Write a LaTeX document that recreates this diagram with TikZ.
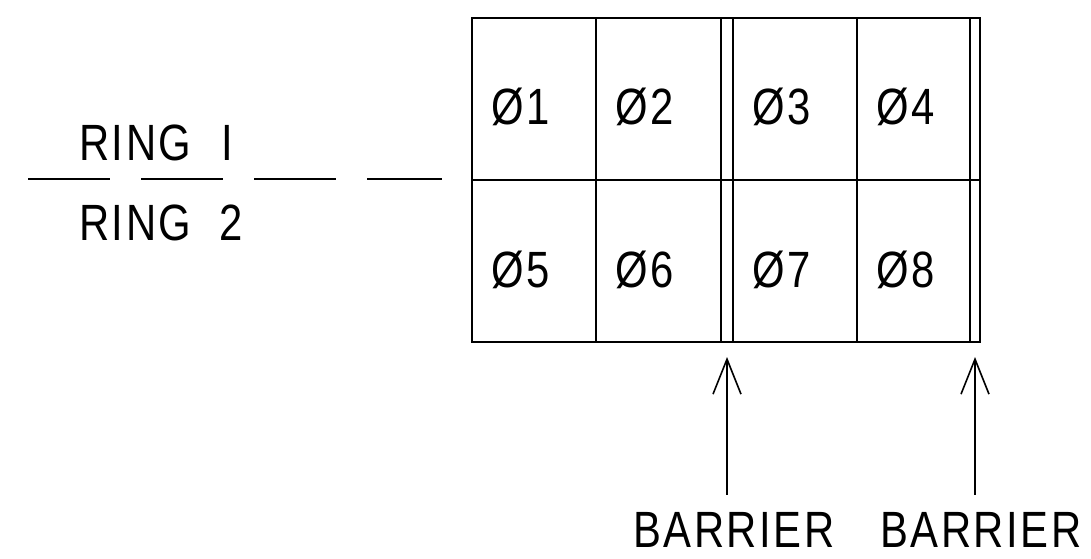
\documentclass[tikz,border=0pt]{standalone}
\usepackage{fontspec}
\newfontfamily\plotfont[FakeStretch=0.82, LetterSpace=5]{Liberation Sans}
\usetikzlibrary{arrows.meta}

\tikzset{
    grid/.style={line width=2pt},
    phase/.style={inner sep=0pt, anchor=base west, font=\plotfont\fontsize{51}{51}\selectfont},
    label/.style={inner sep=0pt, anchor=base west, font=\plotfont\fontsize{51}{51}\selectfont},
    barrow/.style={line width=1.6pt, -{Straight Barb[length=35pt,width=28pt,line width=1.6pt]}}
}

\begin{document}
\begin{tikzpicture}[x=1pt, y=-1pt]
            \useasboundingbox (0,0) rectangle (1091,558);

            % the eight phases
            \draw[grid] (472,18) rectangle (980,342);
            \draw[grid] (472,180) -- (980,180);
            \draw[grid] (596,18) -- (596,342);
            \draw[grid] (721,18) -- (721,342);
            \draw[grid] (733,18) -- (733,342);
            \draw[grid] (857,18) -- (857,342);
            \draw[grid] (970,18) -- (970,342);

            \coordinate (bar1) at (727,342);
            \coordinate (bar2) at (975,342);

            \node[phase] (p1) at (491,124) {Ø1};
            \node[phase] (p2) at (615,124) {Ø2};
            \node[phase] (p3) at (752,124) {Ø3};
            \node[phase] (p4) at (876,124) {Ø4};
            \node[phase] (p5) at (491,287) {Ø5};
            \node[phase] (p6) at (615,287) {Ø6};
            \node[phase] (p7) at (752,287) {Ø7};
            \node[phase] (p8) at (876,287) {Ø8};

            % rings
            \node[label] (r1) at (79,160) {RING\hspace{30pt}I};
            \node[label] (r2) at (79,240) {RING\hspace{28pt}2};

            \coordinate (ringL) at (28,179);
            \coordinate (ringR) at (442,179);
            \draw[line width=1.2pt, dash pattern=on 82pt off 31pt] (ringL) -- (ringR);

            % barriers
            \node[label] (b1) at (633,547) {BARRIER};
            \node[label] (b2) at (880,547) {BARRIER};

            \draw[barrow] (b1.north -| bar1) ++(0,-17) -- ([yshift=-15pt]bar1);
            \draw[barrow] (b2.north -| bar2) ++(0,-17) -- ([yshift=-15pt]bar2);
        \end{tikzpicture}
\end{document}
